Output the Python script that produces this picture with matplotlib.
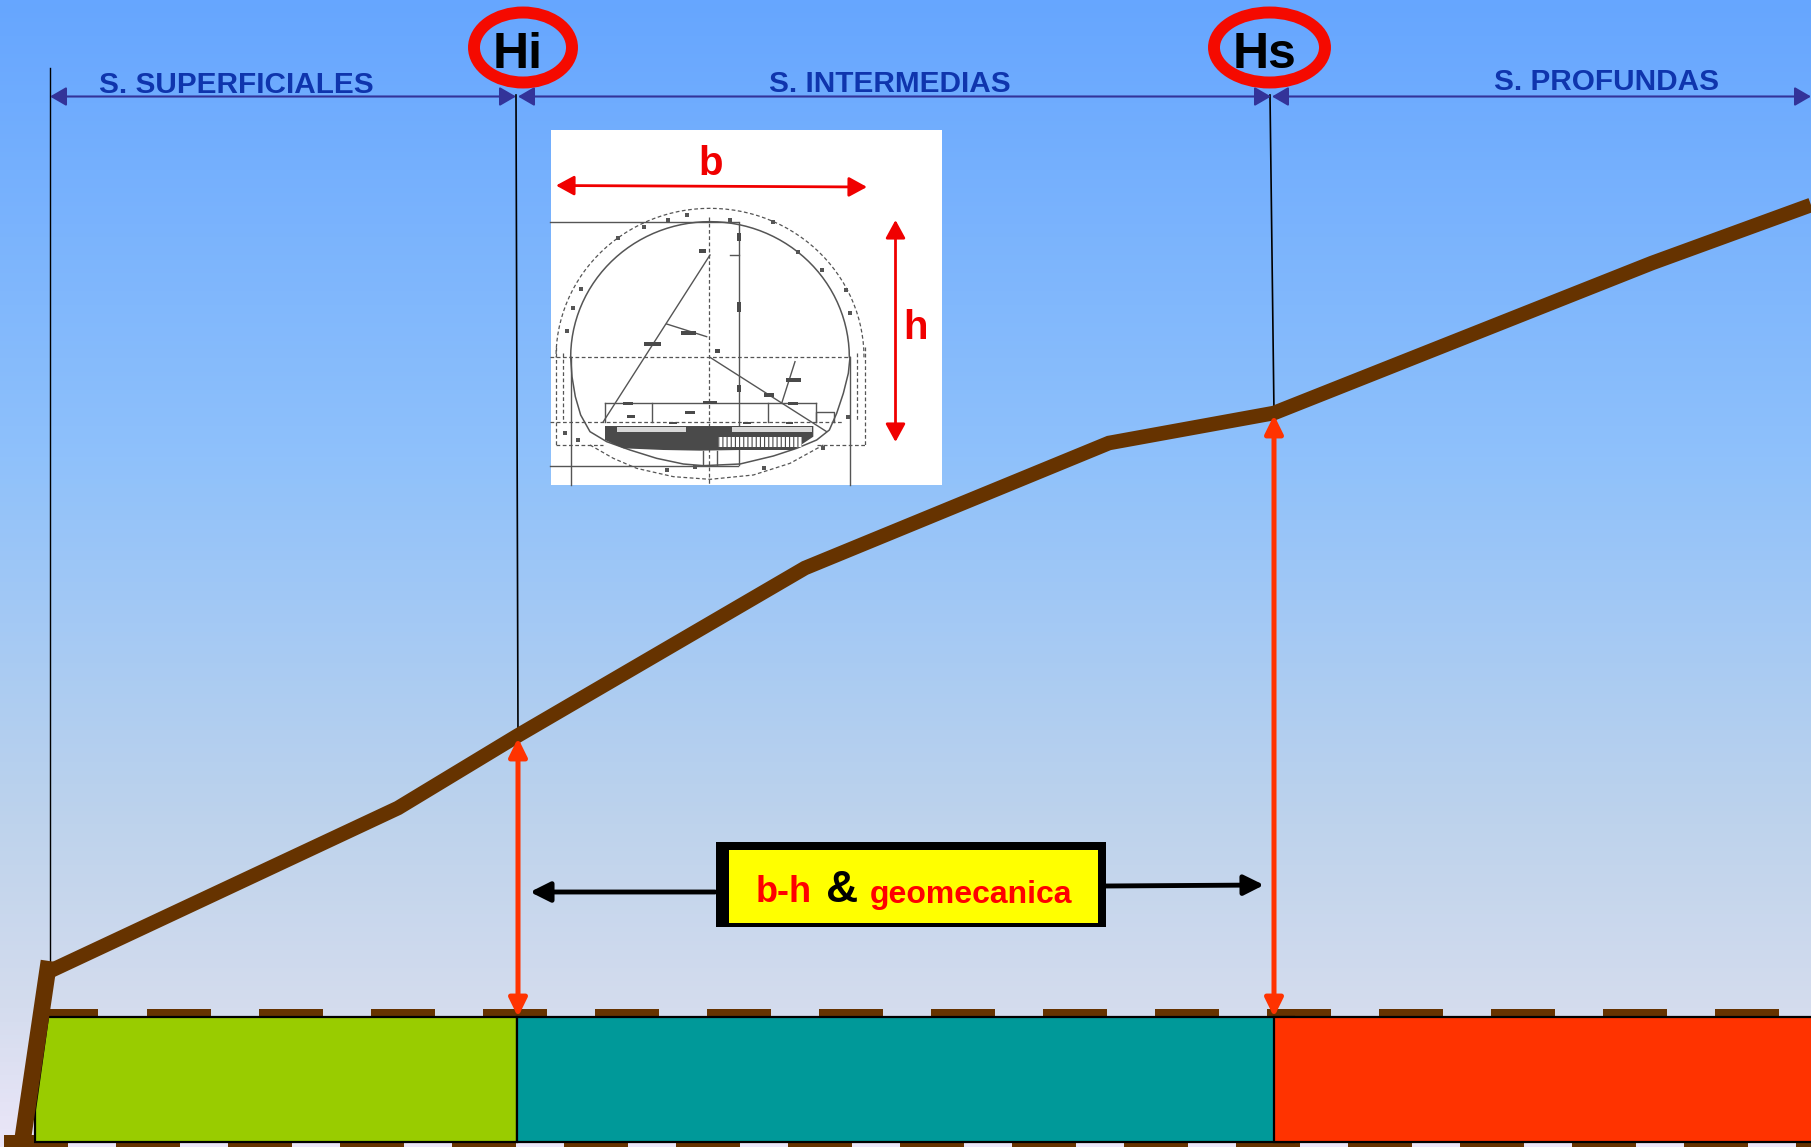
import numpy as np
import matplotlib.pyplot as plt
from matplotlib.colors import LinearSegmentedColormap
from matplotlib.patches import Rectangle, Polygon, Ellipse, FancyArrowPatch

plt.rcParams['font.family'] = ['Liberation Sans', 'DejaVu Sans']
plt.rcParams['hatch.linewidth'] = 0.8

W, H = 1811, 1147

# ground profile
profile_x = [48, 398, 517, 805, 1109, 1274, 1652, 1811]
profile_y = [972, 808, 736, 568, 443, 413, 263, 205]
stub_x = [49, 23]
stub_y = [961, 1137]

# zones
zone_edges = [517, 1274, 1811]
zone_colors = ['#99CC00', '#009999', '#FF3300']
zone_top, zone_bottom = 1017, 1142
zone_labels = ['S. SUPERFICIALES', 'S. INTERMEDIAS', 'S. PROFUNDAS']
zone_label_x = [236, 890, 1606]
zone_label_y = [85, 84, 82]
limit_names = ['Hi', 'Hs']
limit_x = [523, 1269.5]
limit_w = [98, 111]

# tunnel section, in coordinates of the drawing
sec_solid = [
    ([30, 595], [305, 305]), ([597, 597], [305, 1035]), ([30, 595], [1037, 1037]),
    ([92, 92], [712, 1095]), ([930, 930], [712, 1095]),
    ([510, 190], [405, 905]), ([510, 860], [712, 935]),
    ([195, 828], [850, 850]), ([195, 195], [850, 905]), ([337, 337], [850, 905]),
    ([685, 685], [850, 905]), ([828, 828], [850, 905]),
    ([828, 828, 882, 882], [905, 875, 875, 905]),
    ([380, 500], [612, 650]), ([765, 725], [725, 850]),
    ([570, 597], [405, 405]), ([490, 490], [992, 1035]), ([530, 530], [992, 1035]),
]
sec_dashed = [
    ([30, 930], [712, 712]), ([508, 508], [290, 1095]),
    ([48, 48], [680, 975]), ([975, 975], [680, 975]), ([48, 190], [975, 975]),
    ([830, 975], [975, 975]), ([70, 70], [700, 900]), ([952, 952], [700, 900]),
    ([30, 905], [905, 905]),
]
sec_lower_x = [92, 96, 106, 122, 150, 200, 270, 350, 430, 490, 600, 700, 770, 830, 868, 890, 910, 925, 930]
sec_lower_y = [712, 770, 830, 885, 935, 965, 990, 1015, 1032, 1037, 1032, 1008, 985, 960, 930, 880, 820, 760, 712]
sec_outer_x = [150, 220, 290, 400, 510, 640, 750, 850]
sec_outer_y = [975, 1015, 1045, 1070, 1078, 1065, 1030, 975]
sec_fill_x = [195, 820, 820, 760, 600, 480, 370, 250, 195]
sec_fill_y = [918, 918, 950, 990, 990, 992, 990, 985, 960]
sec_strips = [(232, 922, 205, 14), (575, 922, 240, 14)]
sec_hatch = (535, 950, 250, 32)
sec_tags = [(478, 386, 20, 12), (422, 632, 45, 12), (312, 667, 50, 12), (672, 818, 30, 14),
            (738, 775, 45, 12), (250, 845, 30, 10), (745, 845, 30, 10), (590, 545, 14, 30),
            (590, 795, 14, 20), (525, 686, 15, 12), (435, 872, 30, 10), (490, 843, 40, 10),
            (262, 885, 22, 8), (388, 905, 22, 8), (610, 905, 22, 8), (738, 905, 22, 8),
            (590, 340, 12, 24)]
sec_specks_x = [312, 235, 122, 100, 82, 775, 845, 918, 930, 385, 440, 570, 700, 850, 672, 380, 465, 75, 115, 925]
sec_specks_y = [322, 355, 508, 565, 632, 395, 450, 510, 580, 300, 285, 300, 305, 985, 1045, 1050, 1040, 940, 960, 890]


fig = plt.figure(figsize=(W / 100, H / 100), dpi=100)
ax = fig.add_axes([0, 0, 1, 1])
ax.set_xlim(0, W)
ax.set_ylim(H, 0)
ax.axis('off')

bg = LinearSegmentedColormap.from_list('bg', [(0, '#66A6FF'), (0.4, '#8FC1FB'), (0.72, '#BED3EC'),
                                              (0.88, '#D4DCEE'), (1, '#EBE6F8')])
ax.imshow(np.linspace(0, 1, 256)[:, None], cmap=bg, extent=(0, W, H, 0), aspect='auto', zorder=0)


def arrow(x0, y0, x1, y1, color, style, lw, z=6):
    ax.add_patch(FancyArrowPatch((x0, y0), (x1, y1), arrowstyle=style, color=color, lw=lw,
                                 shrinkA=0, shrinkB=0, mutation_scale=1, zorder=z))


def sec(x, y):
    # drawing coordinates to figure pixels
    return 540 + np.asarray(x, dtype=float) / 3, 120 + np.asarray(y, dtype=float) / 3


# dashes above and under the zones
ax.add_patch(Rectangle((48, 1009), 50, 8, fc='#663300', ec='none', zorder=2))
for x in np.arange(147, 1790, 112):
    ax.add_patch(Rectangle((x, 1009), 64, 8, fc='#663300', ec='none', zorder=2))
for x in np.arange(4, 1811, 112):
    ax.add_patch(Rectangle((x, 1143), 64, 4, fc='#663300', ec='none', zorder=2))
ax.add_patch(Rectangle((4, 1135), 30, 12, fc='#663300', ec='none', zorder=5))

# zones
left = 48
for i, (right, col) in enumerate(zip(zone_edges, zone_colors)):
    if i == 0:
        pts = [(48, zone_top), (right, zone_top), (right, zone_bottom), (35, zone_bottom), (35, 1110)]
    else:
        pts = [(left, zone_top), (right + 20, zone_top), (right + 20, zone_bottom), (left, zone_bottom)]
    ax.add_patch(Polygon(pts, closed=True, fc=col, ec='black', lw=1.6, zorder=3))
    left = right

# vertical limits
ax.plot([49.5, 49.5], [68, 970], color='black', lw=1, zorder=2)
ax.plot([516, 518], [95, 736], color='black', lw=1.2, zorder=2)
ax.plot([1270, 1274], [95, 413], color='black', lw=1.2, zorder=2)

# profile
ax.plot(profile_x, profile_y, color='#663300', lw=10.5, solid_joinstyle='miter', solid_capstyle='butt', zorder=5)
ax.plot(stub_x, stub_y, color='#663300', lw=12, solid_capstyle='butt', zorder=5)

# depth arrows
head = '<|-|>,head_length=11,head_width=5.4'
arrow(518, 738, 518, 1017, '#FF3300', head, 3.6, 6)
arrow(1274, 415, 1274, 1017, '#FF3300', head, 3.6, 6)

# range arrows
span = '<|-|>,head_length=10,head_width=5.8'
arrow(50, 96.5, 516, 96.5, '#333399', span, 1.5)
arrow(518, 96.5, 1271, 96.5, '#333399', span, 1.5)
arrow(1272, 96.5, 1811, 96.5, '#333399', span, 1.5)
for name, x, y in zip(zone_labels, zone_label_x, zone_label_y):
    ax.text(x, y, name, color='#0F35AD', fontsize=21.4, fontweight='bold', ha='center', va='center', zorder=7)

for name, x, w in zip(limit_names, limit_x, limit_w):
    ax.add_patch(Ellipse((x, 47.5), w, 70, fc='none', ec='#F50A00', lw=8.6, zorder=7))
    ax.text(x - 5, 55, name, color='black', fontsize=36, fontweight='bold', ha='center', va='center', zorder=8)

# tunnel section
ax.add_patch(Rectangle((551, 130), 391, 355, fc='white', ec='none', zorder=4))
gray = '#555555'
for x, y in sec_solid:
    ax.plot(*sec(x, y), color=gray, lw=1, zorder=5)
for x, y in sec_dashed:
    ax.plot(*sec(x, y), color=gray, lw=0.9, ls=(0, (3, 2)), zorder=5)
t = np.radians(np.arange(0, 181, 3))
ax.plot(*sec(510 + 418 * np.cos(t), 712 - 407 * np.sin(t)), color=gray, lw=1.1, zorder=5)
ax.plot(*sec(510 + 462 * np.cos(t), 712 - 447 * np.sin(t)), color=gray, lw=0.9, ls=(0, (3, 2)), zorder=5)
ax.plot(*sec(sec_lower_x, sec_lower_y), color=gray, lw=1.1, zorder=5)
ax.plot(*sec(sec_outer_x, sec_outer_y), color=gray, lw=0.9, ls=(0, (3, 2)), zorder=5)
fx, fy = sec(sec_fill_x, sec_fill_y)
ax.add_patch(Polygon(np.column_stack([fx, fy]), closed=True, fc='#4A4A4A', ec='none', zorder=5))
for x, y, w, h in sec_strips:
    sx, sy = sec(x, y)
    ax.add_patch(Rectangle((sx, sy), w / 3, h / 3, fc='#D8D8D8', ec='none', zorder=6))
hx, hy = sec(sec_hatch[0], sec_hatch[1])
ax.add_patch(Rectangle((hx, hy), sec_hatch[2] / 3, sec_hatch[3] / 3, fc='white', ec='#4A4A4A', lw=0,
                       hatch='||||', zorder=6))
for x, y, w, h in sec_tags:
    sx, sy = sec(x, y)
    ax.add_patch(Rectangle((sx, sy), w / 3, h / 3, fc='#4A4A4A', ec='none', zorder=6))
ax.scatter(*sec(sec_specks_x, sec_specks_y), s=5, marker='s', color=gray, linewidths=0, zorder=6)

# b and h
arrow(556, 185.5, 867, 187, '#F00000', '<|-|>,head_length=11,head_width=6', 2, 7)
arrow(895.5, 220, 895.5, 442, '#F00000', '<|-|>,head_length=11,head_width=6', 2, 7)
ax.text(711, 164, 'b', color='#F00000', fontsize=29, fontweight='bold', ha='center', va='center', zorder=7)
ax.text(916, 328, 'h', color='#F00000', fontsize=29, fontweight='bold', ha='center', va='center', zorder=7)

# note box
ax.add_patch(Rectangle((716, 842), 390, 85, fc='black', ec='none', zorder=6))
ax.add_patch(Rectangle((729, 850), 369, 73, fc='#FFFF00', ec='none', zorder=7))
ax.text(784, 893, 'b-h', color='#FF0000', fontsize=26, fontweight='bold', ha='center', va='center', zorder=8)
ax.text(842, 890, '&', color='black', fontsize=32, fontweight='bold', ha='center', va='center', zorder=8)
ax.text(971, 895, 'geomecanica', color='#FF0000', fontsize=23, fontweight='bold', ha='center', va='center', zorder=8)
arrow(715, 892, 530, 892, 'black', '-|>,head_length=12,head_width=6', 3.5)
arrow(1106, 886, 1264, 885, 'black', '-|>,head_length=12,head_width=6', 3.5)

fig.savefig('out.png', dpi=100)
